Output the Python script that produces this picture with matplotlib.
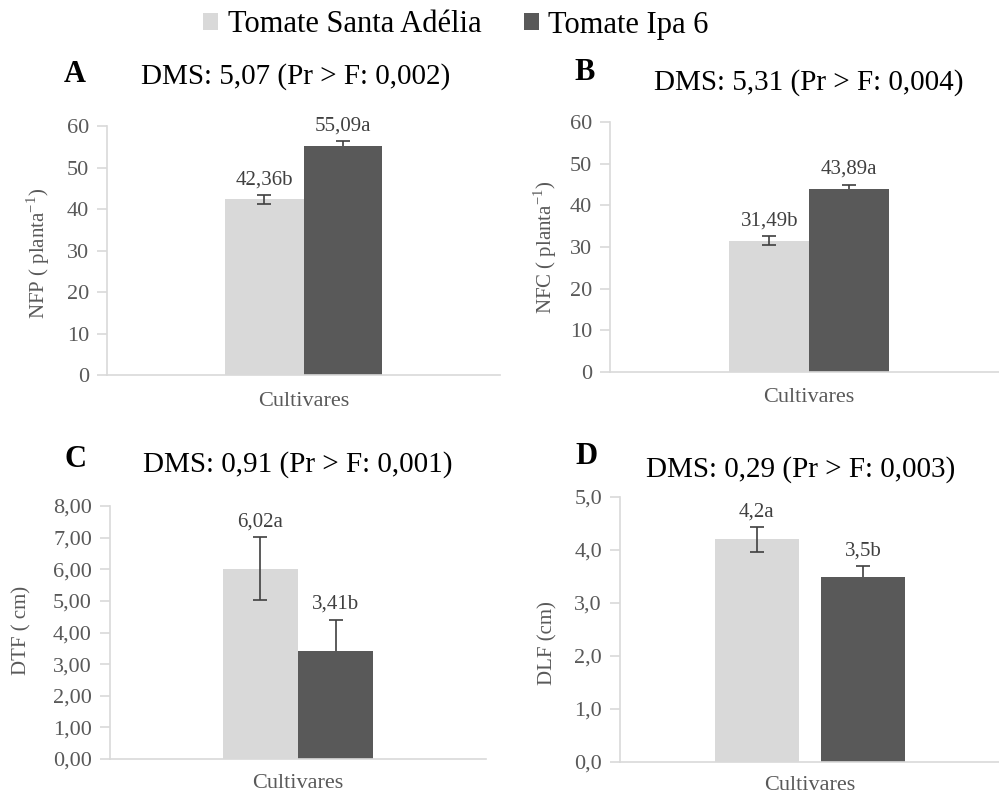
import matplotlib
matplotlib.use("Agg")
import matplotlib.pyplot as plt
from matplotlib.patches import Patch

plt.rcParams['font.family'] = ['Liberation Serif', 'DejaVu Serif']

cultivares = ['Tomate Santa Adélia', 'Tomate Ipa 6']
cores = ['#d9d9d9', '#595959']

letras = ['A', 'B', 'C', 'D']
titulos = ['DMS: 5,07 (Pr > F: 0,002)', 'DMS: 5,31 (Pr > F: 0,004)',
           'DMS: 0,91 (Pr > F: 0,001)', 'DMS: 0,29 (Pr > F: 0,003)']
ylabels = [r'NFP ( planta$^{\mathregular{-1}}$)', r'NFC ( planta$^{\mathregular{-1}}$)',
           'DTF ( cm)', 'DLF (cm)']

nfp = [42.36, 55.09]
nfp_err = [1.1, 1.3]
nfp_lab = ['42,36b', '55,09a']

nfc = [31.49, 43.89]
nfc_err = [1.1, 1.1]
nfc_lab = ['31,49b', '43,89a']

dtf = [6.02, 3.41]
dtf_err = [0.99, 1.0]
dtf_lab = ['6,02a', '3,41b']

dlf = [4.2, 3.5]
dlf_err = [0.23, 0.2]
dlf_lab = ['4,2a', '3,5b']

ymax = [60, 60, 8, 5]
ystep = [10, 10, 1, 1]
yfmt = ['{:.0f}', '{:.0f}', '{:.2f}', '{:.1f}']

valores = [nfp, nfc, dtf, dlf]
erros = [nfp_err, nfc_err, dtf_err, dlf_err]
rotulos = [nfp_lab, nfc_lab, dtf_lab, dlf_lab]

fig = plt.figure(figsize=(9.99, 7.96), dpi=100)
W, H = 999, 796

def box(x0, x1, ytop, ybot):
    return [x0 / W, 1 - ybot / H, (x1 - x0) / W, (ybot - ytop) / H]

axes_pos = [box(107, 500, 126, 375), box(610, 1008, 122, 372),
            box(110, 486, 506, 759), box(620, 1000, 497, 762)]
bar_w = [0.40, 0.40, 0.40, 0.44]
bar_off = [0.20, 0.20, 0.20, 0.28]

letra_xy = [(75, 75), (585, 73), (75, 460), (587, 457)]
titulo_xy = [(296, 77), (809, 83), (298, 465), (801, 470)]
ylab_xy = [(38, 253), (545, 247), (22, 630), (548, 643)]
xlab_xy = [(304, 402), (809, 397), (298, 784), (810, 786)]

for i in range(4):
    ax = fig.add_axes(axes_pos[i])
    xs = [-bar_off[i], bar_off[i]]
    ax.bar(xs, valores[i], width=bar_w[i], color=cores, zorder=2)
    # light bar: error bar on top; dark bar: behind the bar (lower half hidden)
    for j, z in enumerate([3, 1]):
        ax.errorbar(xs[j], valores[i][j], yerr=erros[i][j], fmt='none',
                    ecolor='#404040', elinewidth=1.2, capsize=5, capthick=1.2,
                    zorder=z)
    for x, v, e, t in zip(xs, valores[i], erros[i], rotulos[i]):
        ax.annotate(t, (x, v + e), xytext=(0, 4), textcoords='offset points',
                    ha='center', va='bottom', fontsize=15, color='#404040',
                    annotation_clip=False)
    ax.set_xlim(-1, 1)
    ax.set_ylim(0, ymax[i])
    ticks = [k * ystep[i] for k in range(int(round(ymax[i] / ystep[i])) + 1)]
    ax.set_yticks(ticks)
    ax.set_yticklabels([yfmt[i].format(t).replace('.', ',') for t in ticks])
    ax.set_xticks([])
    for s in ['top', 'right']:
        ax.spines[s].set_visible(False)
    for s in ['left', 'bottom']:
        ax.spines[s].set_color('#d9d9d9')
        ax.spines[s].set_linewidth(1.2)
    ax.tick_params(axis='y', colors='#d9d9d9', labelcolor='#595959',
                   labelsize=16, length=7, width=1.2, pad=6)
    ax.patch.set_alpha(0)

    fig.text(letra_xy[i][0] / W, 1 - letra_xy[i][1] / H, letras[i],
             fontsize=22, fontweight='bold', ha='center', va='center')
    fig.text(titulo_xy[i][0] / W, 1 - titulo_xy[i][1] / H, titulos[i],
             fontsize=21, ha='center', va='center')
    fig.text(ylab_xy[i][0] / W, 1 - ylab_xy[i][1] / H, ylabels[i],
             fontsize=15, rotation=90, ha='center', va='center', color='#595959')
    fig.text(xlab_xy[i][0] / W, 1 - xlab_xy[i][1] / H, 'Cultivares',
             fontsize=16, ha='center', va='center', color='#595959')

handles = [Patch(facecolor=c, edgecolor='none') for c in cores]
fig.legend(handles, cultivares, loc='center', bbox_to_anchor=(456 / W, 1 - 25 / H),
           ncol=2, frameon=False, fontsize=22, handlelength=0.5, handleheight=0.5,
           handletextpad=0.3, columnspacing=1.4)

fig.savefig('out.png', dpi=100)
